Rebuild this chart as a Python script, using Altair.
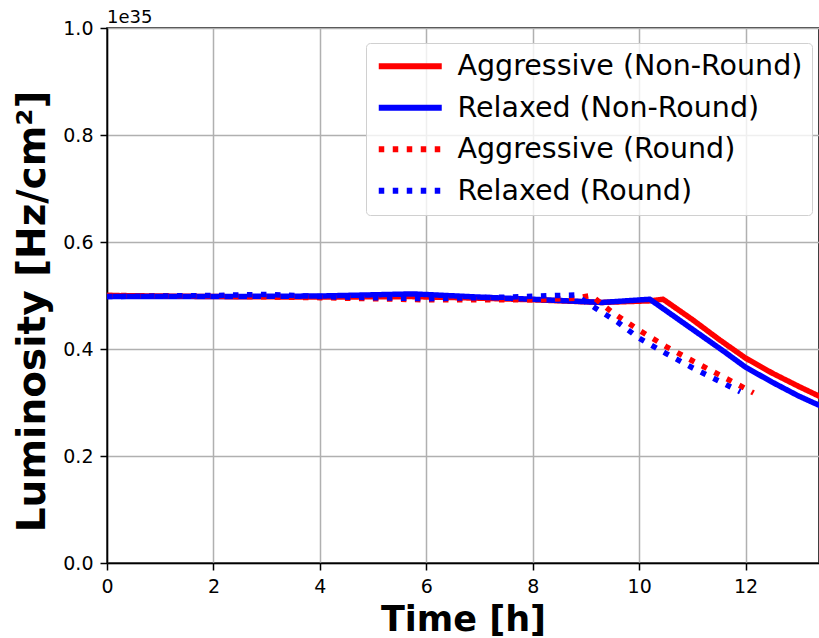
import altair as alt
import pandas as pd

series_names = ["Aggressive (Non-Round)", "Relaxed (Non-Round)", "Aggressive (Round)", "Relaxed (Round)"]

agg_nr_t = [0, 2, 4, 5.7, 7, 8, 9.3, 10.2, 10.45, 11.0, 11.5, 12.0, 12.5, 13.0, 13.4]
agg_nr_l = [0.500, 0.498, 0.497, 0.498, 0.495, 0.492, 0.487, 0.490, 0.493, 0.455, 0.418, 0.383, 0.355, 0.330, 0.311]

rel_nr_t = [0, 2, 4, 5.75, 7, 8, 9.3, 10.2, 10.7, 11.2, 11.6, 12.0, 12.5, 13.0, 13.4]
rel_nr_l = [0.498, 0.498, 0.499, 0.503, 0.497, 0.493, 0.487, 0.493, 0.458, 0.423, 0.395, 0.366, 0.338, 0.312, 0.294]

agg_r_t = [0, 2, 4, 6, 8, 8.8, 9.1, 9.5, 10.0, 10.5, 11.0, 11.5, 12.0, 12.15]
agg_r_l = [0.500, 0.499, 0.496, 0.492, 0.492, 0.495, 0.500, 0.468, 0.435, 0.405, 0.378, 0.352, 0.326, 0.318]

rel_r_t = [0, 2, 3, 4, 6, 7.5, 8.8, 9.2, 9.6, 10.0, 10.5, 11.0, 11.5, 11.9]
rel_r_l = [0.498, 0.500, 0.502, 0.498, 0.494, 0.497, 0.501, 0.475, 0.450, 0.420, 0.392, 0.365, 0.340, 0.320]

all_t = [agg_nr_t, rel_nr_t, agg_r_t, rel_r_t]
all_l = [agg_nr_l, rel_nr_l, agg_r_l, rel_r_l]

rows = []
for name, ts, ls in zip(series_names, all_t, all_l):
    for i, (t, l) in enumerate(zip(ts, ls)):
        rows.append({"series": name, "t": t, "lum": l, "order": i})
df = pd.DataFrame(rows)

x_ticks = [0, 2, 4, 6, 8, 10, 12]
y_ticks = [0.0, 0.2, 0.4, 0.6, 0.8, 1.0]

color_scale = alt.Scale(domain=series_names, range=["#ff0000", "#0000ff", "#ff0000", "#0000ff"])
dash_scale = alt.Scale(domain=series_names, range=[[1, 0], [1, 0], [5.5, 8.5], [5.5, 8.5]])

def layer(name):
    return alt.Chart(df).transform_filter(alt.datum.series == name).mark_line(
        strokeWidth=5.5, strokeCap="butt", clip=True
    ).encode(
        x=alt.X("t:Q", scale=alt.Scale(domain=[0, 13.38], nice=False, zero=False),
                axis=alt.Axis(values=x_ticks, format="d", title="Time [h]")),
        y=alt.Y("lum:Q", scale=alt.Scale(domain=[0, 1], nice=False),
                axis=alt.Axis(values=y_ticks, format=".1f", title="Luminosity [Hz/cm²]")),
        color=alt.Color("series:N", scale=color_scale, legend=alt.Legend(title=None)),
        strokeDash=alt.StrokeDash("series:N", scale=dash_scale, legend=alt.Legend(title=None)),
        order="order:Q",
    )

chart = alt.layer(*[layer(n) for n in series_names]).properties(
    width=712,
    height=535,
    padding={"left": 107, "top": 28, "right": 0, "bottom": 75},
    autosize=alt.AutoSizeParams(type="none"),
    title=alt.Title("1e35", anchor="start", frame="group", fontSize=18, fontWeight="normal",
                    font="DejaVu Sans", offset=2, dy=10, color="#000000"),
).configure_view(
    stroke="#000000", strokeWidth=1.5
).configure_axis(
    labelFont="DejaVu Sans", labelFontSize=19, labelColor="#000000",
    titleFont="DejaVu Sans", titleFontWeight="bold", titleColor="#000000",
    grid=True, gridColor="#b0b0b0", gridWidth=1.5,
    domainColor="#000000", domainWidth=1.5,
    tickColor="#000000", tickWidth=1.5, tickSize=7, labelPadding=7,
).configure_axisX(
    titleFontSize=35, titlePadding=6, labelFlush=False,
).configure_axisY(
    titleFontSize=39, titlePadding=10, titleY=283,
).configure_legend(
    orient="none", legendX=259, legendY=15,
    labelFont="DejaVu Sans", labelFontSize=28.5, labelColor="#000000",
    symbolType="M-1,0H5", symbolSize=441, symbolStrokeWidth=6,
    padding=9, strokeColor="#d0d0d0", fillColor="rgba(255,255,255,0.8)",
    cornerRadius=4, rowPadding=12.5, labelOffset=54, labelLimit=500,
)

chart.save("out.html", embed_options={"renderer": "svg", "actions": False})
